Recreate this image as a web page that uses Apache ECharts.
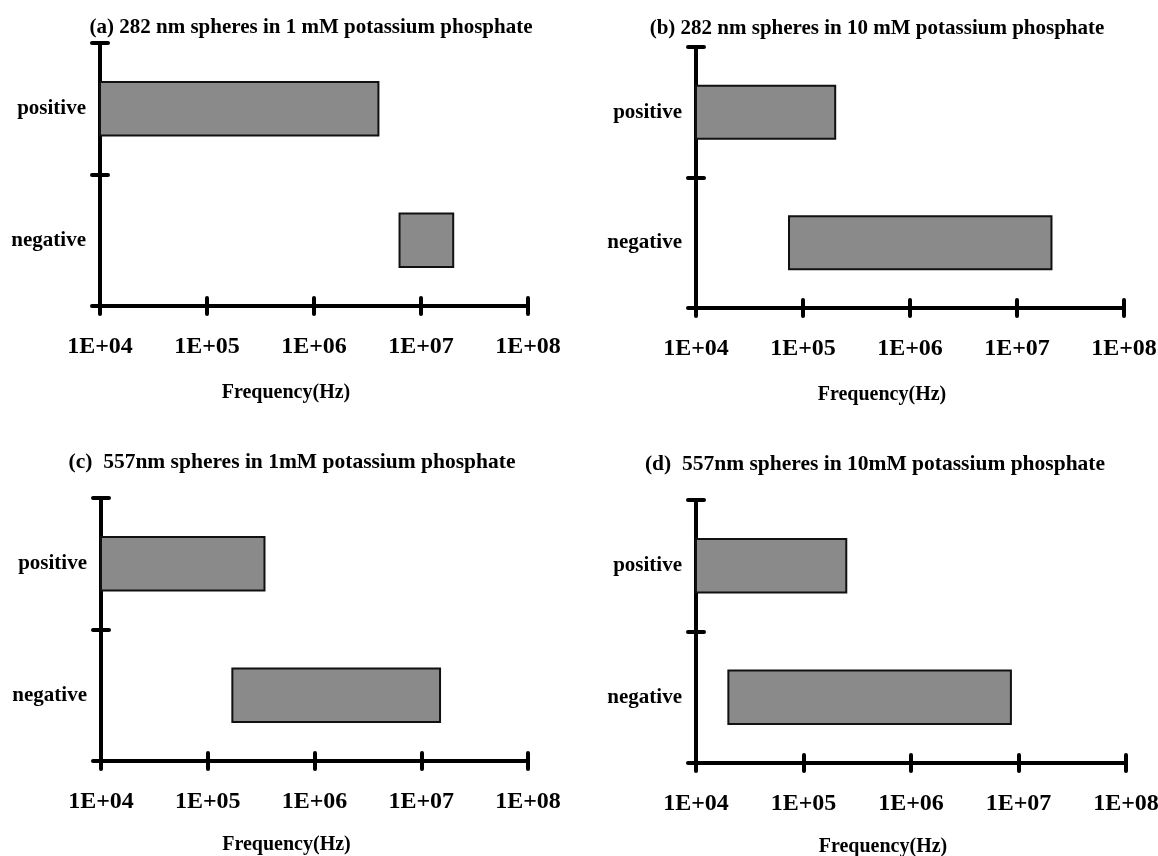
<!DOCTYPE html>
<html>
<head>
<meta charset="utf-8">
<script src="https://cdn.jsdelivr.net/npm/echarts@6/dist/echarts.min.js"></script>
<style>
html,body{margin:0;padding:0;background:#fff;}
#chart{width:1158px;height:856px;}
</style>
</head>
<body>
<div id="chart"></div>
<script>
// ---- data ----
const categories = ['negative', 'positive'];
const tickLabels = ['1E+04', '1E+05', '1E+06', '1E+07', '1E+08'];
const xAxisName = 'Frequency(Hz)';
const panelTitles = [
  '(a) 282 nm spheres in 1 mM potassium phosphate',
  '(b) 282 nm spheres in 10 mM potassium phosphate',
  '(c)  557nm spheres in 1mM potassium phosphate',
  '(d)  557nm spheres in 10mM potassium phosphate'
];
// [start Hz, end Hz]
const aPositive = [1e4, 4.0e6];
const aNegative = [6.3e6, 2.0e7];
const bPositive = [1e4, 2.0e5];
const bNegative = [7.4e4, 2.1e7];
const cPositive = [1e4, 3.4e5];
const cNegative = [1.7e5, 1.5e7];
const dPositive = [1e4, 2.5e5];
const dNegative = [2.0e4, 8.5e6];

const panelData = [
  [aPositive, aNegative],
  [bPositive, bNegative],
  [cPositive, cNegative],
  [dPositive, dNegative]
];

// ---- layout ----
const grids = [
  {left: 100, top: 43, width: 428, height: 263},
  {left: 696, top: 47, width: 428, height: 261},
  {left: 101, top: 498, width: 427, height: 263},
  {left: 696, top: 500, width: 430, height: 263}
];
const titlePos = [
  {x: 306, y: 12}, {x: 872, y: 13}, {x: 287, y: 446}, {x: 870, y: 448}
];
const titleSizes = [21, 21, 21.5, 21.5];
const nameGaps = [77, 77, 74, 74];

const FONT = '"Liberation Serif", "Times New Roman", serif';
const axisLineStyle = {color: '#000', width: 4, cap: 'round'};
const tickLineStyle = {color: '#000', width: 4, cap: 'round'};

const option = {
  backgroundColor: '#fff',
  animation: false,
  title: [],
  grid: [],
  xAxis: [],
  yAxis: [],
  series: []
};

panelData.forEach((pd, i) => {
  option.title.push({
    text: panelTitles[i],
    left: titlePos[i].x,
    top: titlePos[i].y,
    textAlign: 'center',
    textStyle: {fontFamily: FONT, fontWeight: 'bold', fontSize: titleSizes[i], color: '#000'}
  });
  option.grid.push(Object.assign({containLabel: false, outerBoundsMode: 'none'}, grids[i]));
  // primary x axis (outside ticks + labels)
  option.xAxis.push({
    type: 'log', logBase: 10, min: 1e4, max: 1e8, gridIndex: i, position: 'bottom',
    axisLine: {show: true, lineStyle: axisLineStyle},
    axisTick: {show: true, inside: false, length: 8, lineStyle: tickLineStyle},
    minorTick: {show: false}, splitLine: {show: false},
    axisLabel: {
      margin: 29, fontFamily: FONT, fontWeight: 'bold', fontSize: 24, color: '#000',
      formatter: (v) => tickLabels[Math.round(Math.log10(v)) - 4]
    },
    name: xAxisName, nameLocation: 'middle', nameGap: nameGaps[i],
    nameTextStyle: {fontFamily: FONT, fontWeight: 'bold', fontSize: 20, color: '#000', padding: [0, 56, 0, 0]}
  });
  // secondary x axis (inside ticks only)
  option.xAxis.push({
    type: 'log', logBase: 10, min: 1e4, max: 1e8, gridIndex: i, position: 'bottom', offset: 0,
    axisLine: {show: false},
    axisTick: {show: true, inside: true, length: 8, lineStyle: tickLineStyle},
    axisLabel: {show: false}, splitLine: {show: false}, minorTick: {show: false}
  });
  option.yAxis.push({
    type: 'category', data: categories, gridIndex: i, position: 'left',
    axisLine: {show: true, lineStyle: axisLineStyle},
    axisTick: {show: true, inside: false, length: 8, lineStyle: tickLineStyle},
    axisLabel: {margin: 14, fontFamily: FONT, fontWeight: 'bold', fontSize: 21, color: '#000'},
    splitLine: {show: false}
  });
  option.yAxis.push({
    type: 'category', data: categories, gridIndex: i, position: 'left', offset: 0,
    axisLine: {show: false},
    axisTick: {show: true, inside: true, length: 8, lineStyle: tickLineStyle},
    axisLabel: {show: false}, splitLine: {show: false}
  });
  const rows = [
    [categories.indexOf('positive'), pd[0][0], pd[0][1]],
    [categories.indexOf('negative'), pd[1][0], pd[1][1]]
  ];
  option.series.push({
    type: 'custom',
    xAxisIndex: i * 2,
    yAxisIndex: i * 2,
    encode: {x: [1, 2], y: 0},
    data: rows,
    renderItem: function (params, api) {
      const cat = api.value(0);
      const p0 = api.coord([api.value(1), cat]);
      const p1 = api.coord([api.value(2), cat]);
      const h = api.size([1, 1])[1] * 0.405;
      return {
        type: 'rect',
        shape: {x: p0[0], y: p0[1] - h / 2, width: p1[0] - p0[0], height: h},
        style: {fill: '#8a8a8a', stroke: '#111', lineWidth: 2}
      };
    },
    z: 1
  });
});

const chart = echarts.init(document.getElementById('chart'), null, {renderer: 'canvas'});
chart.setOption(option);
</script>
</body>
</html>
